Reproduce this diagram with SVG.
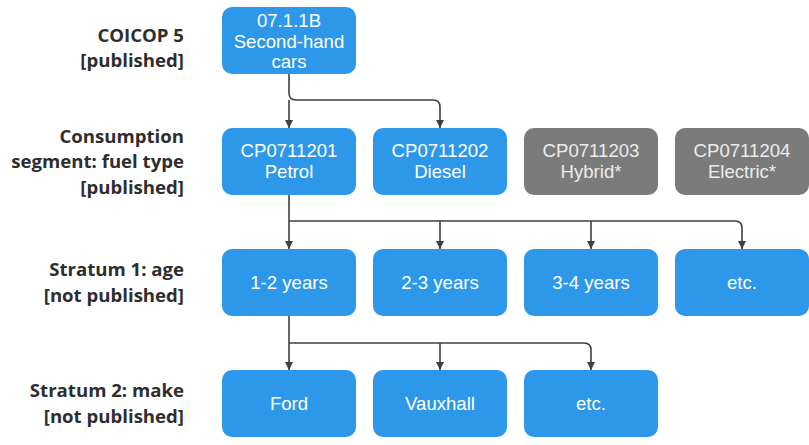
<svg xmlns="http://www.w3.org/2000/svg" width="809" height="445" viewBox="0 0 809 445">
<style>
.box{fill:#2d98ea;}
.grey{fill:#7b7b7b;}
.bt{font-family:"Liberation Sans",Arial,sans-serif;font-size:18.6px;fill:#ffffff;text-anchor:middle;}
.gt{fill:#ececec;}
.lab{font-family:"Open Sans","Noto Sans",sans-serif;font-size:18.6px;font-weight:bold;fill:#2e2e2e;text-anchor:end;}
.con{fill:none;stroke:#3f3f3f;stroke-width:1.6;}
</style>
<defs>
<marker id="arr" viewBox="0 0 10 10" refX="10" refY="5" markerWidth="8" markerHeight="8" markerUnits="userSpaceOnUse" orient="auto">
<path d="M0,0 L10,5 L0,10 z" fill="#3f3f3f"/>
</marker>
</defs>
<rect width="809" height="445" fill="#ffffff"/>
<g id="labels">
<text class="lab" x="184" y="42">COICOP 5</text>
<text class="lab" x="184" y="67">[published]</text>
<text class="lab" x="184" y="143">Consumption</text>
<text class="lab" x="184" y="168">segment: fuel type</text>
<text class="lab" x="184" y="194">[published]</text>
<text class="lab" x="184" y="276">Stratum 1: age</text>
<text class="lab" x="184" y="302">[not published]</text>
<text class="lab" x="184" y="397">Stratum 2: make</text>
<text class="lab" x="184" y="423">[not published]</text>
</g>
<g id="connectors">
<path class="con" d="M289,74 V93 Q289,100 296,100 H433 Q440,100 440,107 V128" marker-end="url(#arr)"/>
<path class="con" d="M289,100 V128" marker-end="url(#arr)"/>
<path class="con" d="M289,195 V249" marker-end="url(#arr)"/>
<path class="con" d="M289,221 H735 Q742,221 742,228 V249" marker-end="url(#arr)"/>
<path class="con" d="M440,221 V249" marker-end="url(#arr)"/>
<path class="con" d="M591,221 V249" marker-end="url(#arr)"/>
<path class="con" d="M289,316 V370" marker-end="url(#arr)"/>
<path class="con" d="M289,343 H584 Q591,343 591,350 V370" marker-end="url(#arr)"/>
<path class="con" d="M440,343 V370" marker-end="url(#arr)"/>
</g>
<g id="n_0711B">
<rect class="box" x="222" y="7" width="134" height="67" rx="10"/>
<text class="bt" x="289" y="27">07.1.1B</text>
<text class="bt" x="289" y="48">Second-hand</text>
<text class="bt" x="289" y="68">cars</text>
</g>
<g id="n_petrol">
<rect class="box" x="222" y="128" width="134" height="67" rx="10"/>
<text class="bt" x="289" y="157">CP0711201</text>
<text class="bt" x="289" y="178">Petrol</text>
</g>
<g id="n_diesel">
<rect class="box" x="373" y="128" width="134" height="67" rx="10"/>
<text class="bt" x="440" y="157">CP0711202</text>
<text class="bt" x="440" y="178">Diesel</text>
</g>
<g id="n_hybrid">
<rect class="grey" x="524" y="128" width="134" height="67" rx="10"/>
<text class="bt gt" x="591" y="157">CP0711203</text>
<text class="bt gt" x="591" y="178">Hybrid*</text>
</g>
<g id="n_electric">
<rect class="grey" x="675" y="128" width="134" height="67" rx="10"/>
<text class="bt gt" x="742" y="157">CP0711204</text>
<text class="bt gt" x="742" y="178">Electric*</text>
</g>
<g id="n_1_2">
<rect class="box" x="222" y="249" width="134" height="67" rx="10"/>
<text class="bt" x="289" y="289">1-2 years</text>
</g>
<g id="n_2_3">
<rect class="box" x="373" y="249" width="134" height="67" rx="10"/>
<text class="bt" x="440" y="289">2-3 years</text>
</g>
<g id="n_3_4">
<rect class="box" x="524" y="249" width="134" height="67" rx="10"/>
<text class="bt" x="591" y="289">3-4 years</text>
</g>
<g id="n_etc1">
<rect class="box" x="675" y="249" width="134" height="67" rx="10"/>
<text class="bt" x="742" y="289">etc.</text>
</g>
<g id="n_ford">
<rect class="box" x="222" y="370" width="134" height="67" rx="10"/>
<text class="bt" x="289" y="410">Ford</text>
</g>
<g id="n_vauxhall">
<rect class="box" x="373" y="370" width="134" height="67" rx="10"/>
<text class="bt" x="440" y="410">Vauxhall</text>
</g>
<g id="n_etc2">
<rect class="box" x="524" y="370" width="134" height="67" rx="10"/>
<text class="bt" x="591" y="410">etc.</text>
</g>
</svg>
